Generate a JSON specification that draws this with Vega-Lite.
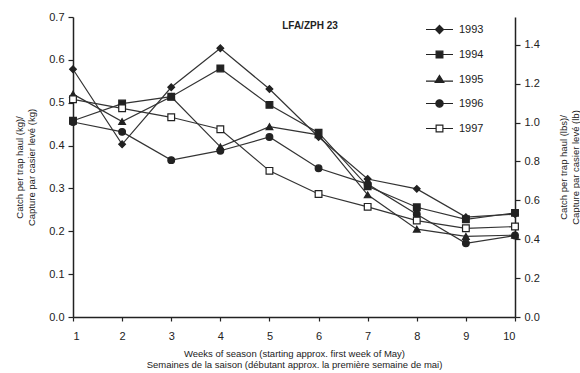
{
  "$schema": "https://vega.github.io/schema/vega-lite/v6.json",
  "width": 442,
  "height": 300,
  "autosize": "none",
  "padding": {"left": 73, "top": 17, "right": 65, "bottom": 56},
  "background": "white",
  "title": {"text": "LFA/ZPH 23", "anchor": "middle", "dx": 16, "dy": 24, "fontSize": 10, "fontWeight": "bold", "font": "Liberation Sans", "color": "#222"},
  "config": {
    "font": "Liberation Sans",
    "view": {"stroke": null},
    "axis": {"domainColor": "#222", "domainWidth": 1.5, "tickColor": "#222", "tickWidth": 1.2, "labelColor": "#222", "titleColor": "#222", "labelFontSize": 11, "titleFontSize": 9.5, "titleFontWeight": "normal", "grid": false}
  },
  "data": {"values": [
    {"week": 1, "year": "1993", "kg": 0.578}, {"week": 2, "year": "1993", "kg": 0.403}, {"week": 3, "year": "1993", "kg": 0.536}, {"week": 4, "year": "1993", "kg": 0.627}, {"week": 5, "year": "1993", "kg": 0.532}, {"week": 6, "year": "1993", "kg": 0.420}, {"week": 7, "year": "1993", "kg": 0.322}, {"week": 8, "year": "1993", "kg": 0.299}, {"week": 9, "year": "1993", "kg": 0.233}, {"week": 10, "year": "1993", "kg": 0.240},
    {"week": 1, "year": "1994", "kg": 0.458}, {"week": 2, "year": "1994", "kg": 0.498}, {"week": 3, "year": "1994", "kg": 0.514}, {"week": 4, "year": "1994", "kg": 0.580}, {"week": 5, "year": "1994", "kg": 0.495}, {"week": 6, "year": "1994", "kg": 0.430}, {"week": 7, "year": "1994", "kg": 0.305}, {"week": 8, "year": "1994", "kg": 0.256}, {"week": 9, "year": "1994", "kg": 0.228}, {"week": 10, "year": "1994", "kg": 0.243},
    {"week": 1, "year": "1995", "kg": 0.520}, {"week": 2, "year": "1995", "kg": 0.456}, {"week": 3, "year": "1995", "kg": 0.514}, {"week": 4, "year": "1995", "kg": 0.397}, {"week": 5, "year": "1995", "kg": 0.444}, {"week": 6, "year": "1995", "kg": 0.425}, {"week": 7, "year": "1995", "kg": 0.285}, {"week": 8, "year": "1995", "kg": 0.205}, {"week": 9, "year": "1995", "kg": 0.188}, {"week": 10, "year": "1995", "kg": 0.191},
    {"week": 1, "year": "1996", "kg": 0.455}, {"week": 2, "year": "1996", "kg": 0.432}, {"week": 3, "year": "1996", "kg": 0.366}, {"week": 4, "year": "1996", "kg": 0.388}, {"week": 5, "year": "1996", "kg": 0.420}, {"week": 6, "year": "1996", "kg": 0.347}, {"week": 7, "year": "1996", "kg": 0.310}, {"week": 8, "year": "1996", "kg": 0.240}, {"week": 9, "year": "1996", "kg": 0.172}, {"week": 10, "year": "1996", "kg": 0.190},
    {"week": 1, "year": "1997", "kg": 0.508}, {"week": 2, "year": "1997", "kg": 0.487}, {"week": 3, "year": "1997", "kg": 0.466}, {"week": 4, "year": "1997", "kg": 0.438}, {"week": 5, "year": "1997", "kg": 0.341}, {"week": 6, "year": "1997", "kg": 0.287}, {"week": 7, "year": "1997", "kg": 0.257}, {"week": 8, "year": "1997", "kg": 0.225}, {"week": 9, "year": "1997", "kg": 0.207}, {"week": 10, "year": "1997", "kg": 0.211}
  ]},
  "encoding": {
    "x": {"field": "week", "type": "quantitative", "scale": {"domain": [1, 10], "nice": false, "zero": false},
      "axis": {"values": [1,2,3,4,5,6,7,8,9,10], "format": "d", "tickSize": 4, "labelPadding": 9, "title": ["Weeks of season (starting approx. first week of May)", "Semaines de la saison (débutant approx. la première semaine de mai)"], "titlePadding": 7, "titleLineHeight": 11}}
  },
  "layer": [
    {
      "layer": [
        {
          "mark": {"type": "line", "color": "#333", "strokeWidth": 1.2},
          "encoding": {
            "y": {"field": "kg", "type": "quantitative", "scale": {"domain": [0, 0.7], "nice": false},
              "axis": {"values": [0,0.1,0.2,0.3,0.4,0.5,0.6,0.7], "format": ".1f", "tickSize": 5, "labelPadding": 4, "title": ["Catch per trap haul (kg)/", "Capture par  casier levé  (kg)"], "titlePadding": 12, "titleLineHeight": 12}},
            "detail": {"field": "year"}
          }
        },
        {
          "mark": {"type": "point", "strokeWidth": 1.2, "size": 45, "opacity": 1, "stroke": "#222"},
          "encoding": {
            "y": {"field": "kg", "type": "quantitative"},
            "shape": {"field": "year", "type": "nominal", "legend": null,
              "scale": {"domain": ["1993","1994","1995","1996","1997"], "range": ["diamond", "square", "triangle-up", "circle", "square"]}},
            "fill": {"field": "year", "type": "nominal", "legend": null,
              "scale": {"domain": ["1993","1994","1995","1996","1997"], "range": ["#222", "#222", "#222", "#222", "#ffffff"]}}
          }
        }
      ]
    },
    {
      "mark": {"type": "point", "opacity": 0},
      "encoding": {
        "y": {"field": "kg", "type": "quantitative", "scale": {"domain": [0, 0.7], "nice": false},
          "axis": {"orient": "right", "values": [0, 0.09072, 0.18144, 0.27216, 0.36287, 0.45359, 0.54431, 0.63503], "labelExpr": "format(datum.value * 2.20462, '.1f')", "tickSize": 5, "labelPadding": 4, "title": ["Catch per trap haul (lbs)/", "Capture par casier levé  (lb)"], "titleAngle": 270, "titlePadding": 17, "titleLineHeight": 12}}
      }
    },
    {
      "transform": [{"filter": "datum.week > 100"}],
      "mark": {"type": "point", "strokeWidth": 1.2, "opacity": 1},
      "encoding": {
        "y": {"field": "kg", "type": "quantitative", "scale": {"domain": [0, 0.7], "nice": false}, "axis": null},
        "shape": {"field": "year", "type": "nominal",
          "scale": {"domain": ["1993","1994","1995","1996","1997"], "range": ["M-1,0H1M0,-0.3L0.3,0L0,0.3L-0.3,0Z", "M-1,0H1M-0.25,-0.25H0.25V0.25H-0.25Z", "M-1,0.12H1M0,-0.3L0.32,0.22H-0.32Z", "M-1,0H1M0.27,0A0.27,0.27,0,1,1,-0.27,0A0.27,0.27,0,1,1,0.27,0Z", "M-1,0H-0.25M0.25,0H1M-0.25,-0.25H0.25V0.25H-0.25Z"]},
          "legend": {"title": null, "orient": "none", "legendX": 352, "legendY": -2, "labelFontSize": 11, "labelColor": "#222", "symbolSize": 729, "rowPadding": 4, "labelOffset": 5, "symbolStrokeWidth": 1.2}},
        "fill": {"field": "year", "type": "nominal",
          "scale": {"domain": ["1993","1994","1995","1996","1997"], "range": ["#222", "#222", "#222", "#222", "#ffffff"]}},
        "stroke": {"field": "year", "type": "nominal",
          "scale": {"domain": ["1993","1994","1995","1996","1997"], "range": ["#222", "#222", "#222", "#222", "#222"]}}
      }
    }
  ],
  "resolve": {"scale": {"y": "independent", "shape": "independent", "fill": "independent", "stroke": "independent"}}
}
